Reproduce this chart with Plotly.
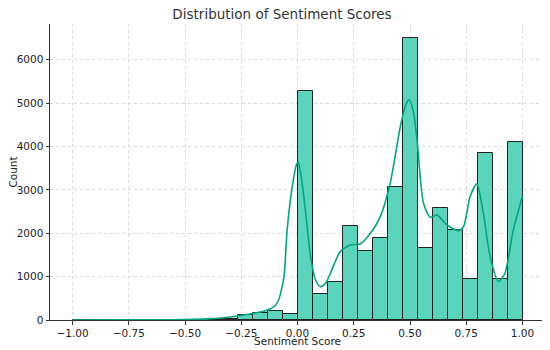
import numpy as np
import plotly.graph_objects as go

# Histogram: 30 equal bins from -1 to 1
bin_start = -1.0
bin_end = 1.0
n_bins = 30
counts = [3, 1, 1, 2, 2, 3, 4, 6, 8, 12, 25, 125, 165, 205, 145,
          5275, 600, 875, 2175, 1585, 1900, 3075, 6510, 1670, 2590,
          2085, 940, 3850, 945, 4115]

# KDE curve (scaled to counts)
kde_x = [-1.0, -0.8, -0.6, -0.5, -0.4, -0.3, -0.2, -0.15, -0.12, -0.1, -0.085,
         -0.075, -0.06, -0.046, -0.031, -0.016, -0.005, 0.003, 0.012, 0.028,
         0.045, 0.058, 0.08, 0.102, 0.125, 0.146, 0.19, 0.235, 0.279, 0.324,
         0.368, 0.412, 0.457, 0.48, 0.497, 0.515, 0.531, 0.56, 0.59, 0.62,
         0.664, 0.715, 0.738, 0.767, 0.797, 0.826, 0.856, 0.893, 0.922, 0.959, 1.0]
kde_y = [0, 2, 5, 10, 25, 70, 150, 200, 260, 330, 450,
         615, 1000, 2077, 2800, 3307, 3580, 3650, 3450, 2846,
         2050, 1461, 923, 769, 850, 1077, 1577, 1731, 1754, 2000,
         2385, 3154, 4461, 4950, 5077, 4800, 4154, 2692, 2370, 2423,
         2192, 2061, 2154, 2846, 3138, 2462, 1461, 885, 1077, 2077, 2861]

title = "Distribution of Sentiment Scores"
x_label = "Sentiment Score"
y_label = "Count"

edges = np.linspace(bin_start, bin_end, n_bins + 1)
width = edges[1] - edges[0]

# page has an 8px body margin; figure sized to fill the rest of the window
OFF = 8
W, H = 550 - OFF, 350 - OFF
ML, MR, MT, MB = 49.5 - OFF, 4.5, 24 - OFF, 30
PW, PH = W - ML - MR, H - MT - MB

fig = go.Figure()
fig.add_trace(go.Bar(
    x=edges[:-1], y=counts, width=width, offset=0,
    marker=dict(color="rgb(90,212,187)", line=dict(color="#222222", width=1)),
    showlegend=False,
))
fig.add_trace(go.Scatter(
    x=kde_x, y=kde_y, mode="lines",
    line=dict(color="rgb(0,166,128)", width=1.6, shape="spline", smoothing=0.7),
    showlegend=False,
))

font = "DejaVu Sans, sans-serif"
fig.update_layout(
    width=W, height=H,
    margin=dict(l=ML, r=MR, t=MT, b=MB, autoexpand=False),
    paper_bgcolor="white", plot_bgcolor="white",
    bargap=0,
    font=dict(family=font, size=10.5, color="#222222"),
    title=dict(text=title, x=(282 - OFF) / W, xref="container", xanchor="center",
               y=1 - (14 - OFF) / H, yanchor="middle",
               font=dict(family=font, size=13.5, color="#333333")),
    annotations=[
        dict(text=x_label, xref="paper", yref="paper", x=0.5,
             y=-(341 - OFF - (H - MB)) / PH,
             xanchor="center", yanchor="middle", showarrow=False,
             font=dict(family=font, size=10.5, color="#222222")),
        dict(text=y_label, xref="paper", yref="paper", x=(12 - OFF - ML) / PW, y=0.5,
             xanchor="center", yanchor="middle", textangle=-90, showarrow=False,
             font=dict(family=font, size=10.5, color="#222222")),
    ],
)
fig.update_xaxes(
    range=[-1.1, 1.1], tickmode="array",
    tickvals=[-1.0, -0.75, -0.5, -0.25, 0.0, 0.25, 0.5, 0.75, 1.0],
    tickformat=".2f", automargin=False,
    showgrid=True, gridcolor="#d9d9d9", griddash="dot", gridwidth=0.8,
    showline=True, linecolor="#333333", linewidth=1,
    ticks="outside", ticklen=3.5, tickcolor="#333333",
    zeroline=False,
)
fig.update_yaxes(
    range=[0, 6825], tickmode="array",
    tickvals=[0, 1000, 2000, 3000, 4000, 5000, 6000], automargin=False,
    showgrid=True, gridcolor="#d9d9d9", griddash="dot", gridwidth=0.8,
    showline=True, linecolor="#333333", linewidth=1,
    ticks="outside", ticklen=3.5, tickcolor="#333333",
    zeroline=False,
)

fig.write_html("out.html")
